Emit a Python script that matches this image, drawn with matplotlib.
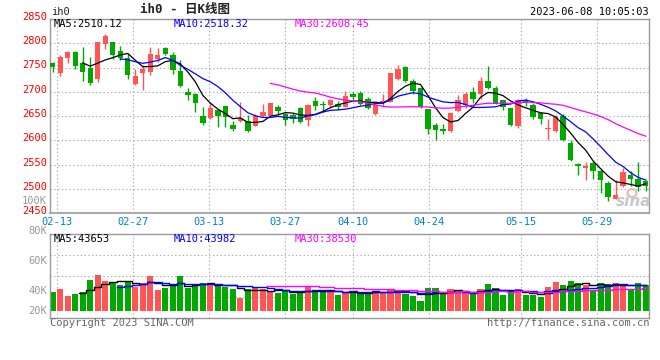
import matplotlib
matplotlib.use('Agg')

import matplotlib.pyplot as plt
import matplotlib.transforms as mtransforms
from matplotlib.patches import Ellipse
import pandas as pd

# ih0 daily k-line, 2023-02-13 .. 2023-06-08 (80 trading days)
opens = [2760, 2739, 2769, 2781, 2759, 2749, 2727, 2798, 2802, 2785,
         2770, 2717, 2739, 2741, 2768, 2791, 2775, 2742, 2700, 2696,
         2650, 2645, 2662, 2671, 2632, 2640, 2640, 2630, 2649, 2650,
         2668, 2655, 2652, 2666, 2641, 2681, 2675, 2672, 2675, 2669,
         2696, 2697, 2686, 2655, 2676, 2679, 2727, 2752, 2723, 2708,
         2664, 2632, 2623, 2620, 2660, 2672, 2700, 2696, 2722, 2707,
         2682, 2666, 2630, 2682, 2672, 2657, 2623, 2619, 2649, 2595,
         2552, 2543, 2554, 2537, 2511, 2479, 2505, 2529, 2521, 2516]
highs = [2761, 2775, 2784, 2784, 2793, 2771, 2803, 2820, 2802, 2795,
         2777, 2747, 2756, 2793, 2791, 2793, 2782, 2765, 2707, 2698,
         2669, 2676, 2664, 2671, 2640, 2678, 2653, 2655, 2674, 2676,
         2672, 2659, 2657, 2668, 2674, 2690, 2681, 2685, 2681, 2701,
         2700, 2701, 2690, 2674, 2696, 2739, 2756, 2753, 2726, 2709,
         2665, 2636, 2633, 2659, 2693, 2700, 2710, 2730, 2753, 2712,
         2683, 2667, 2686, 2688, 2676, 2659, 2643, 2652, 2655, 2600,
         2553, 2556, 2558, 2542, 2516, 2518, 2542, 2536, 2556, 2519]
lows = [2741, 2732, 2759, 2746, 2722, 2714, 2720, 2788, 2768, 2765,
        2726, 2713, 2703, 2735, 2761, 2775, 2737, 2709, 2683, 2659,
        2632, 2644, 2628, 2628, 2620, 2638, 2618, 2629, 2648, 2649,
        2653, 2632, 2635, 2636, 2630, 2662, 2659, 2666, 2662, 2668,
        2686, 2672, 2664, 2652, 2669, 2678, 2725, 2720, 2696, 2666,
        2613, 2601, 2613, 2616, 2659, 2667, 2676, 2686, 2706, 2674,
        2662, 2629, 2625, 2670, 2643, 2633, 2600, 2617, 2599, 2557,
        2528, 2518, 2521, 2492, 2475, 2478, 2503, 2505, 2495, 2495]
closes = [2751, 2771, 2781, 2753, 2741, 2718, 2802, 2814, 2776, 2769,
          2734, 2732, 2747, 2778, 2776, 2777, 2745, 2711, 2694, 2676,
          2636, 2666, 2649, 2648, 2623, 2645, 2619, 2649, 2658, 2676,
          2660, 2642, 2644, 2638, 2672, 2671, 2672, 2683, 2668, 2691,
          2689, 2674, 2666, 2672, 2681, 2738, 2746, 2722, 2701, 2668,
          2623, 2621, 2620, 2657, 2683, 2695, 2686, 2722, 2707, 2675,
          2669, 2632, 2682, 2677, 2648, 2644, 2624, 2647, 2600, 2559,
          2546, 2546, 2536, 2519, 2483, 2488, 2534, 2520, 2503, 2506]
volumes = [39300, 41300, 36700, 38000, 39300, 47300, 50700, 46700, 45600, 44000,
           46700, 42900, 45300, 50000, 40700, 42000, 43600, 50000, 42000, 44000,
           45300, 45300, 44000, 42900, 41300, 35300, 41300, 42700, 41300, 40000,
           38700, 40200, 38000, 38700, 43300, 40700, 40700, 39300, 37300, 39300,
           39300, 38700, 38700, 40000, 39300, 41300, 40000, 38000, 36700, 33300,
           42000, 42000, 39300, 41300, 40000, 38700, 38700, 41300, 44700, 42000,
           37300, 39300, 41300, 37300, 37300, 36000, 42700, 46000, 44000, 46700,
           45300, 44000, 40700, 45300, 44700, 45300, 44200, 40700, 45300, 43800]

tick_labels = ['02-13', '02-27', '03-13', '03-27', '04-10', '04-24', '05-15', '05-29']
tick_days = [0, 10, 20, 30, 39, 49, 61, 71]
price_ticks = [2850, 2800, 2750, 2700, 2650, 2600, 2550, 2500, 2450]
vol_label_vals = [100000, 80000, 60000, 40000, 26700]
vol_labels = ['100K', '80K', '60K', '40K', '20K']

price_ma_text = ['MA5:2510.12', 'MA10:2518.32', 'MA30:2608.45']
vol_ma_text = ['MA5:43653', 'MA10:43982', 'MA30:38530']

RED = '#ff5555'
GREEN = '#00a800'
MA_COLORS = ['black', '#0000ff', '#ff00ff']
GRID = dict(color='#aaaaaa', lw=0.8, ls=(0, (1.2, 2.2)))
MONO = ['DejaVu Sans Mono', 'Noto Sans CJK SC']

df = pd.DataFrame({'o': opens, 'h': highs, 'l': lows, 'c': closes, 'v': volumes})
x = list(range(len(df)))
up = df['c'] >= df['o']
colors = [RED if u else GREEN for u in up]
# label gridlines sit on a slightly wider spacing than the candles
tick_pos = [0.57 + d * 1.0125 for d in tick_days]

W, H = 660, 360
fig = plt.figure(figsize=(6.6, 3.6), dpi=100)
ax = fig.add_axes([50 / W, 1 - 213 / H, 599 / W, 194 / H])
axv = fig.add_axes([50 / W, 1 - 318 / H, 599 / W, 84 / H])

for a in (ax, axv):
    a.set_xlim(-0.36, 79.44)
    a.set_xticks([])
    a.set_yticks([])
    for s in a.spines.values():
        s.set_color('#999999')
        s.set_linewidth(1)
    for p in tick_pos:
        a.axvline(p, zorder=0, **GRID)
ax.spines['bottom'].set_linewidth(1.5)
ax.spines['bottom'].set_color('#aaaaaa')

# ---- price panel ----
ax.set_ylim(2450, 2850)
for p in price_ticks[1:-1]:
    ax.axhline(p, zorder=0, **GRID)

ax.vlines(x, df['l'], df['h'], colors=colors, lw=1, zorder=2)
body = (df['c'] - df['o']).abs().clip(lower=1.8)
ax.bar(x, body, bottom=df[['o', 'c']].min(axis=1), width=0.72,
       color=colors, linewidth=0, zorder=3)

for n, col in zip([5, 10, 30], MA_COLORS):
    ax.plot(x, df['c'].rolling(n).mean(), color=col, lw=0.9, zorder=4)

lab_tr = mtransforms.offset_copy(ax.get_yaxis_transform(), fig=fig, x=-3, y=2, units='dots')
for p in price_ticks:
    ax.text(0, p, str(p), transform=lab_tr, ha='right', va='center', color='red',
            fontsize=7.5, family=MONO, clip_on=False)

for p, t in zip(tick_pos, tick_labels):
    ax.text(p, -0.045, t, transform=ax.get_xaxis_transform(), ha='center', va='center',
            color='#0080c8', fontsize=7.5, family=MONO, clip_on=False)

# ---- volume panel ----
axv.set_ylim(22000, 78000)
for f in (0.25, 0.5, 0.75):
    axv.axhline(22000 + f * 56000, zorder=0, **GRID)
vol_floor = 26700
axv.bar(x, df['v'] - vol_floor, bottom=vol_floor, width=0.82, color=colors,
        linewidth=0, zorder=2)
for n, col in zip([5, 10, 30], MA_COLORS):
    axv.plot(x, df['v'].rolling(n).mean(), color=col, lw=1, drawstyle='steps-mid', zorder=3)

vlab_tr = mtransforms.offset_copy(axv.get_yaxis_transform(), fig=fig, x=-3, y=0, units='dots')
for v, t in zip(vol_label_vals, vol_labels):
    axv.text(0, v, t, transform=vlab_tr, ha='right', va='center', color='#999999',
             fontsize=7.5, family=MONO, clip_on=False)

# ---- header / footer text ----
def ftext(px, py, s, **kw):
    kw.setdefault('fontsize', 7.5)
    kw.setdefault('family', MONO)
    kw.setdefault('va', 'center')
    fig.text(px / W, 1 - py / H, s, **kw)

ftext(51, 12, 'ih0', color='#222222')
ftext(185, 10, 'ih0 - 日K线图', ha='center', color='#222222', fontsize=9, weight='bold')
ftext(649, 12, '2023-06-08 10:05:03', ha='right', color='black')
for px, s, col in zip([54, 174, 295], price_ma_text, MA_COLORS):
    ftext(px, 24, s, color=col)
for px, s, col in zip([54, 174, 295], vol_ma_text, MA_COLORS):
    ftext(px, 239, s, color=col)
ftext(50, 323, 'Copyright 2023 SINA.COM', color='#666666')
ftext(649, 323, 'http://finance.sina.com.cn', ha='right', color='#666666')

# sina watermark
fig.add_artist(Ellipse((632 / W, 1 - 193 / H), 9 / W, 8 / H, transform=fig.transFigure,
                       fill=False, edgecolor='#f0b8b8', lw=1.5))
ftext(634, 201, 'sina', ha='center', color='#c8c8c8', fontsize=11, family='DejaVu Sans',
      style='italic', weight='bold')

fig.savefig('out.png', dpi=100)
plt.close(fig)
